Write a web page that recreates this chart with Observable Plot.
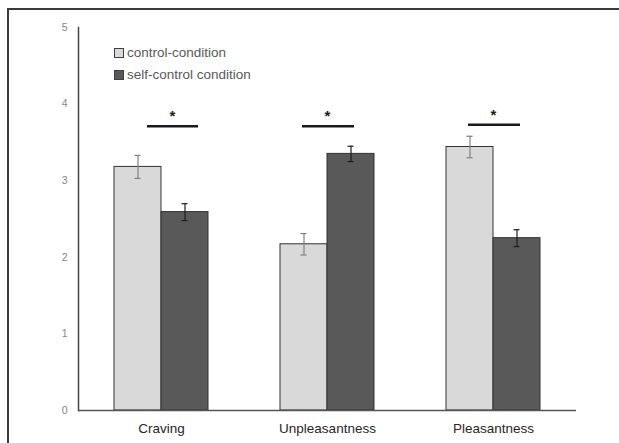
<!DOCTYPE html>
<html>
<head>
<meta charset="utf-8">
<script src="https://cdn.jsdelivr.net/npm/d3@7"></script>
<script src="https://cdn.jsdelivr.net/npm/@observablehq/plot@0.6"></script>
<style>
  html, body { margin: 0; padding: 0; background: #fff; }
  #wrap { position: relative; width: 619px; height: 443px; overflow: hidden; font-family: "Liberation Sans", Arial, sans-serif; }
  #wrap svg { position: absolute; left: 0; top: 0; }
  #border { position: absolute; left: 7px; top: 8px; width: 640px; height: 460px;
            border-left: 2px solid #3a3a3a; border-top: 2px solid #3a3a3a; pointer-events: none; }
  #legend { position: absolute; left: 114px; top: 42px; font-size: 13.5px; color: #595959; line-height: 22px; }
  #legend .row { display: flex; align-items: center; }
  #legend .sw { width: 8px; height: 8px; border: 1px solid #404040; margin-right: 3px; }
</style>
</head>
<body>
<div id="wrap">
  <div id="chart"></div>
  <div id="legend"></div>
  <div id="border"></div>
</div>
<script>
// Mean ratings per measure and condition, with standard errors
const categories = ["Craving", "Unpleasantness", "Pleasantness"];
const series = ["control-condition", "self-control condition"];
const controlMean = [3.18, 2.17, 3.44];
const controlSE = [0.15, 0.14, 0.14];
const selfControlMean = [2.59, 3.35, 2.25];
const selfControlSE = [0.11, 0.10, 0.11];
// Height of the significance bracket above each pair
const sigLevel = [3.71, 3.71, 3.73];
const sigLabel = ["*", "*", "*"];
const yTicks = [0, 1, 2, 3, 4, 5];
const seriesFill = ["#d9d9d9", "#595959"];
const errorColor = ["#808080", "#1e1e1e"];

const rows = [];
categories.forEach((c, i) => {
  rows.push({category: c, series: series[0], mean: controlMean[i], se: controlSE[i]});
  rows.push({category: c, series: series[1], mean: selfControlMean[i], se: selfControlSE[i]});
});
const sig = categories.map((c, i) => ({category: c, y: sigLevel[i], label: sigLabel[i]}));

const errMark = (s, k) => {
  const data = rows.filter(d => d.series === s);
  return [
    Plot.ruleX(data, {fx: "category", x: "series", y1: d => d.mean - d.se, y2: d => d.mean + d.se, stroke: errorColor[k], strokeWidth: 1.2}),
    Plot.tickY(data, {fx: "category", x: "series", y: d => d.mean + d.se, stroke: errorColor[k], strokeWidth: 1.2, insetLeft: 20.5, insetRight: 20.5}),
    Plot.tickY(data, {fx: "category", x: "series", y: d => d.mean - d.se, stroke: errorColor[k], strokeWidth: 1.2, insetLeft: 20.5, insetRight: 20.5})
  ];
};

const chart = Plot.plot({
  width: 619,
  height: 443,
  marginLeft: 77,
  marginRight: 43,
  marginTop: 27,
  marginBottom: 33,
  style: {fontFamily: "'Liberation Sans', Arial, sans-serif", background: "transparent"},
  fx: {domain: categories, padding: 0, label: null},
  x: {domain: series, paddingInner: 0, paddingOuter: 0.75, axis: null},
  y: {domain: [0, 5], label: null},
  color: {domain: series, range: seriesFill},
  marks: [
    Plot.axisY({ticks: yTicks, tickFormat: d3.format("d"), tickSize: 0, tickPadding: 11, fontSize: 10.5, color: "#858585", label: null}),
    Plot.axisFx({anchor: "bottom", tickSize: 0, tickPadding: 13, fontSize: 13.5, color: "#262626", label: null}),
    Plot.barY(rows, {fx: "category", x: "series", y: "mean", fill: "series", stroke: "#333", strokeWidth: 1, insetLeft: 0, insetRight: 0}),
    ...errMark(series[0], 0),
    ...errMark(series[1], 1),
    Plot.ruleY(sig.filter((d, i) => i === 0), {fx: "category", y: "y", stroke: "#1a1a1a", strokeWidth: 2.5, insetLeft: 69, insetRight: 46}),
    Plot.ruleY(sig.filter((d, i) => i > 0), {fx: "category", y: "y", stroke: "#1a1a1a", strokeWidth: 2.5, insetLeft: 58, insetRight: 56}),
    Plot.text(sig.filter((d, i) => i === 0), {fx: "category", y: "y", text: "label", dy: -10, dx: 11, fontSize: 15, fontWeight: "bold", fill: "#1a1a1a"}),
    Plot.text(sig.filter((d, i) => i > 0), {fx: "category", y: "y", text: "label", dy: -10, fontSize: 15, fontWeight: "bold", fill: "#1a1a1a"}),
    Plot.ruleY([0], {stroke: "#555", strokeWidth: 1.5}),
    Plot.frame({anchor: "left", facetAnchor: "left", stroke: "#444", strokeWidth: 1.5})
  ]
});
document.getElementById("chart").append(chart);

// Legend drawn inside the plot area
const legend = d3.select("#legend");
series.forEach((s, k) => {
  const row = legend.append("div").attr("class", "row");
  row.append("div").attr("class", "sw").style("background", seriesFill[k]);
  row.append("span").text(s);
});
</script>
</body>
</html>
